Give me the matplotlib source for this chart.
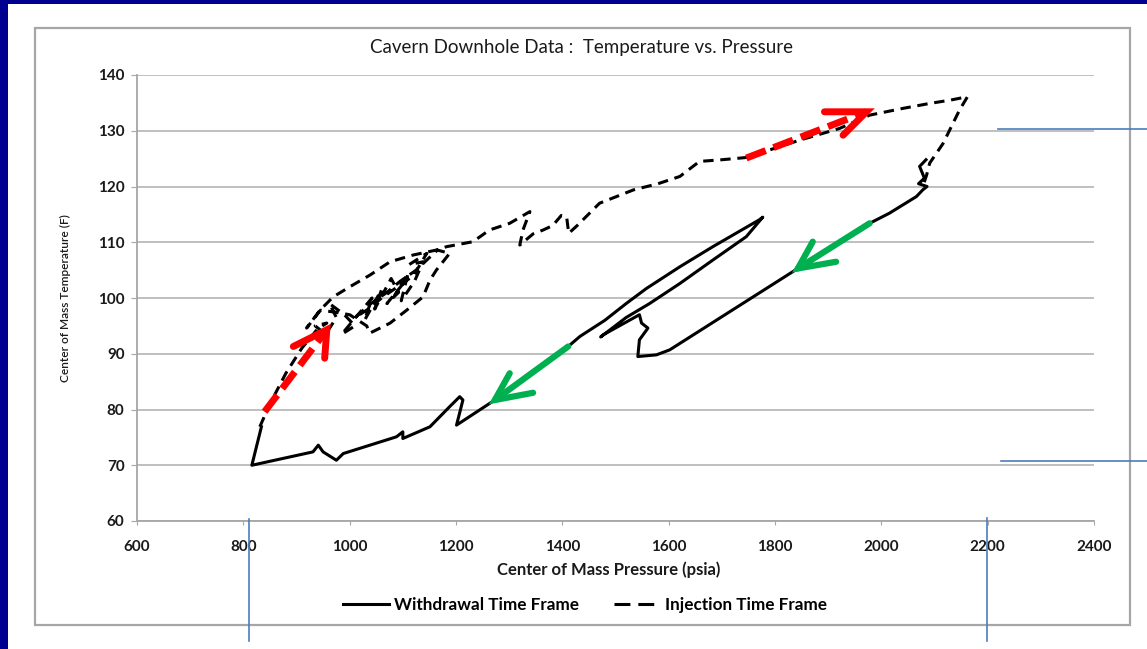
import matplotlib
matplotlib.use("Agg")
import matplotlib.pyplot as plt
from matplotlib.lines import Line2D
from matplotlib.patches import Rectangle

W, H = 1147, 649

# withdrawal (solid) path, pressure psia / temperature F
wd_p = [2084, 2072, 2081, 2070, 2086, 2078, 2066, 2015, 1978, 1843,
        1602, 1577, 1542, 1545, 1561, 1549, 1545, 1477, 1472, 1520,
        1564, 1621, 1683, 1746, 1777, 1770, 1683, 1621, 1558, 1520,
        1480, 1433, 1411, 1340, 1273, 1201, 1213, 1207, 1188, 1151,
        1100, 1100, 1088, 1038, 988, 975, 950, 941, 931, 816,
        834]
wd_t = [124.8, 123.6, 121.5, 120.5, 120.0, 119.4, 118.2, 115.2, 113.4, 105.3,
        90.7, 89.8, 89.5, 92.5, 94.6, 95.5, 97.0, 93.4, 93.0, 96.5,
        99.0, 102.6, 106.8, 111.0, 114.5, 114.0, 109.2, 105.6, 101.7, 99.0,
        96.0, 93.1, 91.3, 86.6, 81.7, 77.2, 81.7, 82.3, 80.5, 76.9,
        74.8, 76.0, 75.1, 73.6, 72.1, 70.9, 72.4, 73.6, 72.4, 70.0,
        76.9]

# injection (dashed) path
inj_p = [831, 850, 880, 910, 940, 957, 935, 955, 975, 962,
         990, 1010, 985, 1020, 1042, 1028, 1060, 1047, 1078, 1092,
         1070, 1100, 1085, 1110, 1097, 1122, 1138, 1112, 1145, 1120,
         1090, 1060, 1035, 1010, 1040, 1070, 1095, 1125, 1165, 1188,
         1163, 1151, 1138, 1107, 1076, 1038, 1032, 1000, 970, 945,
         919, 944, 969, 1000, 1038, 1076, 1119, 1163, 1182, 1232,
         1263, 1301, 1339, 1326, 1320, 1345, 1364, 1382, 1398, 1408,
         1412, 1428, 1470, 1534, 1580, 1621, 1658, 1700, 1746, 1846,
         1921, 1978, 2040, 2091, 2130, 2162, 2147, 2116, 2091, 2085,
         2078]
inj_t = [76.9, 81.0, 86.5, 91.0, 94.5, 95.5, 95.0, 93.5, 96.5, 99.0,
         97.0, 95.0, 93.5, 97.5, 100.0, 96.0, 101.5, 98.0, 103.5, 101.0,
         99.0, 102.5, 100.5, 104.5, 99.5, 103.0, 106.5, 106.0, 108.0, 104.0,
         102.0, 100.0, 98.0, 96.5, 99.0, 101.0, 103.0, 105.0, 108.6, 108.0,
         105.0, 103.2, 100.2, 97.8, 95.5, 93.7, 95.0, 97.0, 97.5, 97.8,
         94.6, 97.8, 100.2, 102.0, 104.1, 106.5, 107.7, 108.6, 109.2, 110.1,
         112.2, 113.4, 115.5, 112.2, 109.5, 111.5, 112.2, 113.0, 114.8, 114.6,
         111.6, 113.0, 117.0, 119.4, 120.5, 121.8, 124.5, 124.8, 125.2, 128.3,
         130.4, 132.8, 134.0, 134.9, 135.5, 136.1, 133.7, 127.7, 124.2, 122.0,
         120.0]

# hand-drawn arrows: shaft start, tip, two head ends
green_arrows = [
    [(1411, 91.3), (1273, 81.7), (1301, 86.5), (1345, 83.0)],
    [(1978, 113.4), (1843, 105.3), (1871, 110.1), (1915, 106.5)],
]
red_arrows = [
    [(840, 79.6), (957, 94.3), (894, 91.3), (953, 89.2)],
    [(1746, 125.1), (1972, 133.4), (1893, 133.4), (1928, 129.2)],
]
# blue marker lines (pressure, temperature)
blue_h = [([2220, 2500], [130.4, 130.4]), ([2225, 2500], [70.8, 70.8])]
blue_v = [([810, 810], [60.3, 38.5]), ([2198, 2198], [60.5, 38.5])]

x_ticks = [600, 800, 1000, 1200, 1400, 1600, 1800, 2000, 2200, 2400]
y_ticks = [60, 70, 80, 90, 100, 110, 120, 130, 140]

FONT = "Lato"
TXT = "#1a1a1a"
DASH = (0, (3.4, 2.2))

fig = plt.figure(figsize=(W / 100, H / 100), dpi=100, facecolor="#000090")
fig.add_artist(Rectangle((8 / W, 0), 1 - 8 / W, 1 - 4 / H, transform=fig.transFigure,
                         facecolor="white", edgecolor="none", zorder=-2))
fig.add_artist(Rectangle((35 / W, 24 / H), 1095 / W, 597 / H, transform=fig.transFigure,
                         fill=False, edgecolor="#a6a6a6", lw=1.6, zorder=-1))

ax = fig.add_axes([137 / W, 128 / H, 957 / W, 446 / H])
ax.set_facecolor("none")
ax.set_xlim(600, 2400)
ax.set_ylim(60, 140)
ax.set_xticks(x_ticks)
ax.set_yticks(y_ticks)
for s in ["top", "right"]:
    ax.spines[s].set_visible(False)
for s in ["left", "bottom"]:
    ax.spines[s].set_color("#a6a6a6")
    ax.spines[s].set_linewidth(1.3)
ax.grid(axis="y", color="#b4b4b4", lw=1.2)
ax.set_axisbelow(True)
ax.tick_params(axis="y", length=4, color="#a6a6a6", pad=5, labelcolor=TXT)
ax.tick_params(axis="x", length=3, color="#a6a6a6", pad=11, labelcolor=TXT)
for lab in ax.get_xticklabels() + ax.get_yticklabels():
    lab.set_fontfamily(FONT)
    lab.set_fontweight("bold")
    lab.set_fontsize(11)

ax.plot(wd_p, wd_t, color="black", lw=2.2, solid_joinstyle="round")
ax.plot(inj_p, inj_t, color="black", lw=2.2, linestyle=DASH)

for a in green_arrows:
    (x0, y0), (x1, y1), (ha, hb), (hc, hd) = a
    ax.plot([x0, x1], [y0, y1], color="#00b050", lw=4.5, solid_capstyle="round", zorder=4)
    ax.plot([ha, x1, hc], [hb, y1, hd], color="#00b050", lw=4.5,
            solid_capstyle="round", solid_joinstyle="miter", zorder=4)
for a in red_arrows:
    (x0, y0), (x1, y1), (ha, hb), (hc, hd) = a
    ax.plot([x0, x1], [y0, y1], color="#ff0000", lw=5, linestyle=(0, (3.0, 1.2)), zorder=4)
    ax.plot([ha, x1, hc], [hb, y1, hd], color="#ff0000", lw=5,
            solid_capstyle="round", solid_joinstyle="miter", zorder=4)

for xs, ys in blue_h + blue_v:
    ax.plot(xs, ys, color="#4a7ebb", lw=1.2, clip_on=False, zorder=5)

fig.text(581 / W, 1 - 47 / H, "Cavern Downhole Data :  Temperature vs. Pressure",
         ha="center", va="center", fontsize=13.5, family=FONT, color=TXT)
fig.text(609 / W, 1 - 570 / H, "Center of Mass Pressure (psia)", ha="center", va="center",
         fontsize=12, family=FONT, fontweight="bold", color=TXT)
fig.text(65 / W, 1 - 298 / H, "Center of Mass Temperature (F)", ha="center", va="center",
         rotation=90, fontsize=8.6, family=FONT, fontweight="semibold", color=TXT)

handles = [Line2D([], [], color="black", lw=2.2),
           Line2D([], [], color="black", lw=2.2, linestyle=(0, (5.2, 2.6)))]
fig.legend(handles, ["Withdrawal Time Frame", "Injection Time Frame"], loc="center",
           bbox_to_anchor=(585 / W, 1 - 605 / H), ncol=2, frameon=False,
           handlelength=2.7, handletextpad=0.3, columnspacing=2.0,
           prop={"family": FONT, "weight": "bold", "size": 12.3})

fig.savefig("out.png", dpi=100, facecolor=fig.get_facecolor())
